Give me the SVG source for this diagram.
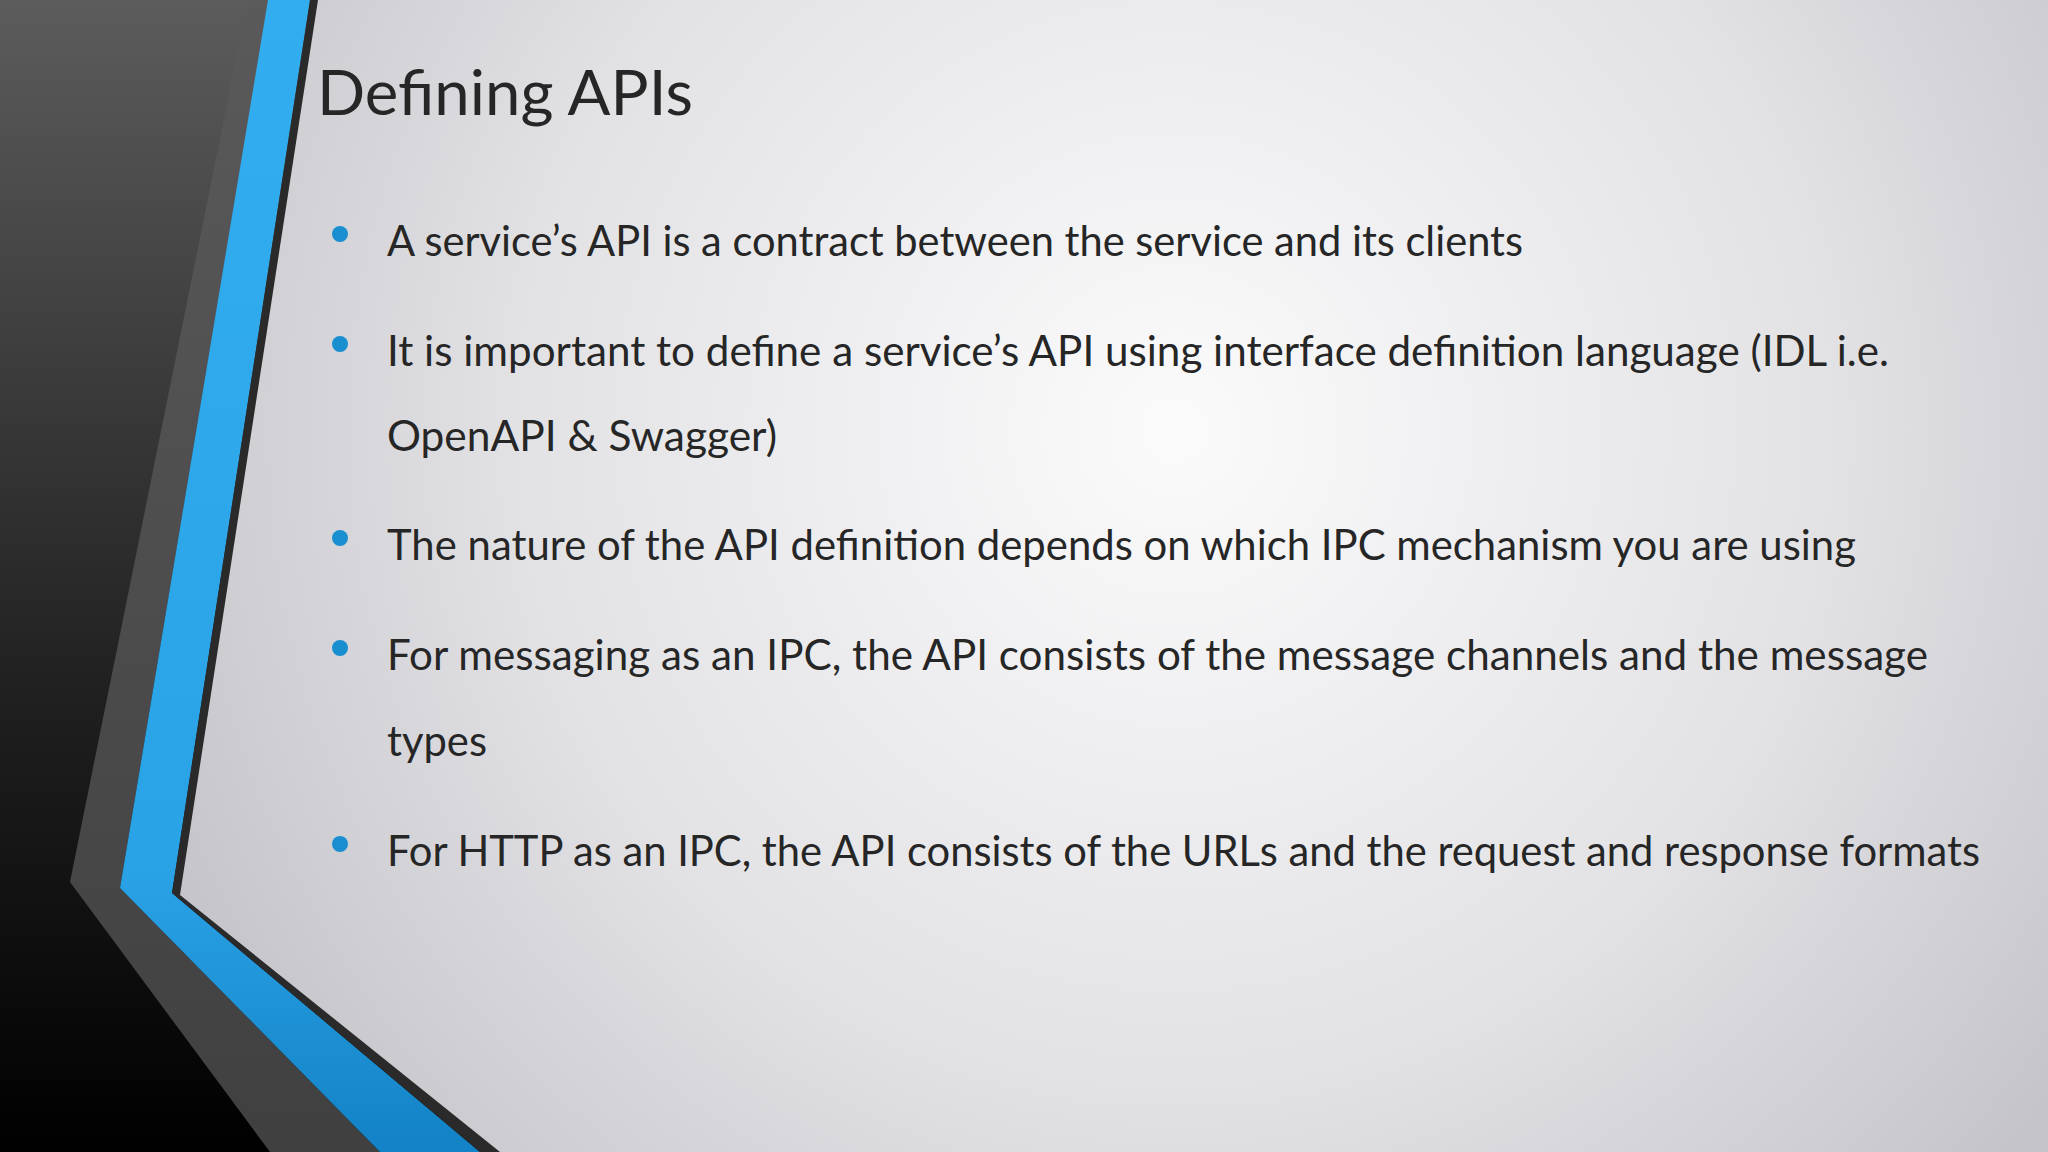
<svg xmlns="http://www.w3.org/2000/svg" width="2048" height="1152" viewBox="0 0 2048 1152">
<defs>
<radialGradient id="bg" cx="1175" cy="430" r="1100" gradientUnits="userSpaceOnUse">
<stop offset="0" stop-color="#fbfbfc"/><stop offset="0.6" stop-color="#e2e2e5"/><stop offset="1" stop-color="#c4c4ca"/>
</radialGradient>
<linearGradient id="dk" x1="0" y1="0" x2="0" y2="1">
<stop offset="0" stop-color="#5c5c5c"/><stop offset="0.6" stop-color="#202020"/><stop offset="1" stop-color="#000"/>
</linearGradient>
<linearGradient id="gr" x1="0" y1="0" x2="0" y2="1">
<stop offset="0" stop-color="#5a5a5a"/><stop offset="1" stop-color="#404040"/>
</linearGradient>
<linearGradient id="bl" x1="0" y1="0" x2="0" y2="1">
<stop offset="0" stop-color="#32aef0"/><stop offset="0.75" stop-color="#2aa3e6"/><stop offset="1" stop-color="#1382c6"/>
</linearGradient>
<style>
.t{font-family:Lato,"Open Sans",sans-serif;fill:#262626}
.b{font-size:42px}
.d{fill:#1a8fd0}
</style>
</defs>
<rect width="2048" height="1152" fill="url(#dk)"/>
<polygon points="316,0 2048,0 2048,1152 496,1152 179,895" fill="url(#bg)"/>
<polygon points="248,0 268,0 120,888 380,1152 270,1152 70,882" fill="url(#gr)"/>
<polygon points="268,0 310,0 172,893 480,1152 380,1152 120,888" fill="url(#bl)"/>
<polygon points="310,0 318,0 180,895 500,1152 480,1152 172,893" fill="#2a2a2a"/>
<g id="title"><text class="t" x="317" y="115" font-size="62" textLength="376" lengthAdjust="spacingAndGlyphs">Defining APIs</text></g>
<g id="bullets">
<circle class="d" cx="340" cy="234" r="8"/>
<circle class="d" cx="340" cy="344" r="8"/>
<circle class="d" cx="340" cy="538" r="8"/>
<circle class="d" cx="340" cy="648" r="8"/>
<circle class="d" cx="340" cy="844" r="8"/>
<text class="t b" x="387" y="256" textLength="1136" lengthAdjust="spacingAndGlyphs">A service’s API is a contract between the service and its clients</text>
<text class="t b" x="387" y="366" textLength="1502" lengthAdjust="spacingAndGlyphs">It is important to define a service’s API using interface definition language (IDL i.e.</text>
<text class="t b" x="387" y="451" textLength="390" lengthAdjust="spacingAndGlyphs">OpenAPI &amp; Swagger)</text>
<text class="t b" x="387" y="560" textLength="1469" lengthAdjust="spacingAndGlyphs">The nature of the API definition depends on which IPC mechanism you are using</text>
<text class="t b" x="387" y="670" textLength="1541" lengthAdjust="spacingAndGlyphs">For messaging as an IPC, the API consists of the message channels and the message</text>
<text class="t b" x="387" y="756" textLength="100" lengthAdjust="spacingAndGlyphs">types</text>
<text class="t b" x="387" y="866" textLength="1593" lengthAdjust="spacingAndGlyphs">For HTTP as an IPC, the API consists of the URLs and the request and response formats</text>
</g>
</svg>
